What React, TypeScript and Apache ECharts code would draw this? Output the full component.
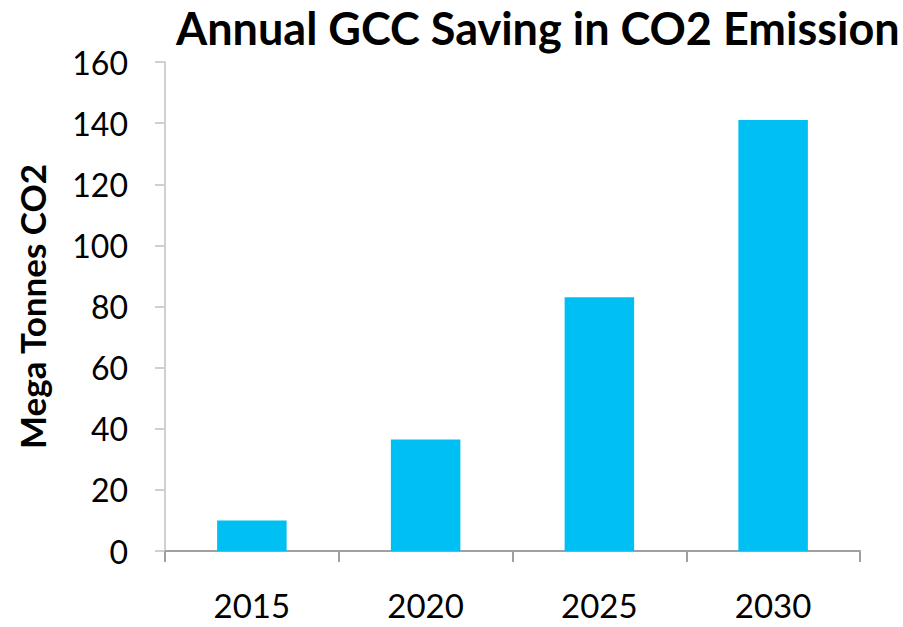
import React, { useEffect, useRef } from "react";
import * as echarts from "echarts";

const categories = ["2015", "2020", "2025", "2030"];
const savings = [10, 36.5, 83, 141];
const yTicks = { min: 0, max: 160, interval: 20 };

export default function App() {
  const ref = useRef<HTMLDivElement>(null);
  useEffect(() => {
    const chart = echarts.init(ref.current!, null, { renderer: "svg" });
    chart.setOption({
      animation: false,
      title: {
        text: "Annual GCC Saving in CO2 Emission",
        left: 171,
        top: 0,
        textStyle: { fontFamily: "Lato", fontWeight: "bold", fontSize: 45, color: "#000" },
      },
      grid: { left: 165, right: 43, top: 62, bottom: 76, containLabel: false },
      xAxis: {
        type: "category",
        data: categories,
        axisLine: { lineStyle: { color: "#a0a0a0", width: 2 } },
        axisTick: { show: true, length: 11, lineStyle: { color: "#a0a0a0", width: 2 } },
        axisLabel: { margin: 39, lineHeight: 30, fontFamily: "Lato", fontSize: 33, color: "#000" },
      },
      yAxis: {
        type: "value",
        min: yTicks.min,
        max: yTicks.max,
        interval: yTicks.interval,
        name: "Mega Tonnes CO2",
        nameLocation: "middle",
        nameRotate: 90,
        nameGap: 116,
        nameTextStyle: { fontFamily: "Lato", fontWeight: "bold", fontSize: 35, color: "#000" },
        axisLine: { show: true, lineStyle: { color: "#d0d0d0", width: 2 } },
        axisTick: { show: true, length: 10, lineStyle: { color: "#d0d0d0", width: 2 } },
        splitLine: { show: false },
        axisLabel: { margin: 37, fontFamily: "Lato", fontSize: 32, color: "#000" },
      },
      series: [
        {
          type: "bar",
          data: savings,
          barWidth: "40%",
          itemStyle: { color: "#00bff3" },
        },
      ],
    });
    return () => chart.dispose();
  }, []);
  return (
    <div
      ref={ref}
      style={{ position: "fixed", left: 0, top: 0, width: 903, height: 627, background: "#fff" }}
    />
  );
}
